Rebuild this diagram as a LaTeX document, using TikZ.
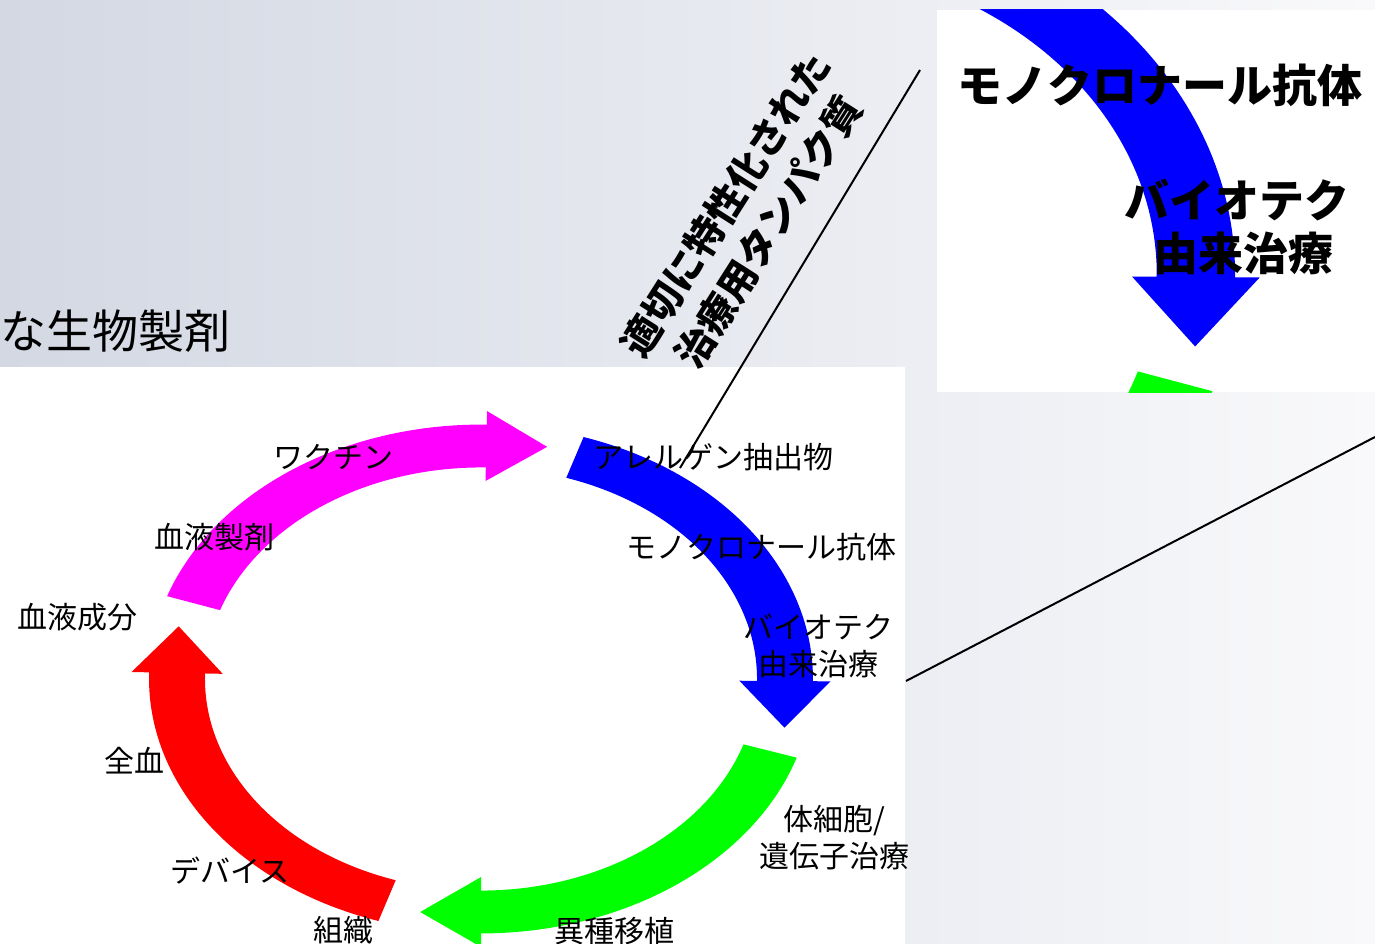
\documentclass[tikz,border=0pt]{standalone}
\usepackage{fontspec}
\newfontfamily\jp{Noto Sans CJK JP}
\definecolor{bgl}{HTML}{D3D8E3}
\definecolor{bgr}{HTML}{F9F9FB}
\definecolor{amag}{HTML}{FF00FF}
\definecolor{ablue}{HTML}{0000FF}
\definecolor{agreen}{HTML}{00FF00}
\definecolor{ared}{HTML}{FF0000}
\newcommand\ringarrow[3]{%
  \fill[#1] plot[domain=#2:#3,samples=60] ({1.092*cos(\x)},{1.092*sin(\x)})
    -- ({1.15*cos(#3)},{1.15*sin(#3)})
    -- ({cos(#3)+0.2*sin(#3)},{sin(#3)-0.2*cos(#3)})
    -- ({0.85*cos(#3)},{0.85*sin(#3)})
    -- plot[domain=#3:#2,samples=60] ({0.908*cos(\x)},{0.908*sin(\x)}) -- cycle;}
\tikzset{
  lbl/.style={inner sep=0pt,font=\jp\fontsize{30}{37}\selectfont,align=center,text=black},
  plbl/.style={inner sep=0pt,font=\jp\bfseries\fontsize{45}{52}\selectfont,text=black},
  link/.style={line width=2pt,black}
}
\begin{document}
\begin{tikzpicture}[x=1pt,y=-1pt]
\shade[left color=bgl,right color=bgr] (0,0) rectangle (1375,944);
\useasboundingbox (0,0) rectangle (1375,944);
% white panels
\fill[white] (0,367) rectangle (905,944);
\fill[white] (937,10) rectangle (1375,392);
% title
\node[inner sep=0pt,anchor=west,font=\jp\fontsize{46}{52}\selectfont,text=black] (title) at (0,331) {な生物製剤};
% rotated caption
\node[inner sep=0pt,rotate=57.5,align=center,font=\jp\bfseries\fontsize{39}{51}\selectfont] (cap) at (747,218) {適切に特性化された\\治療用タンパク質};
% cycle of arrows
\begin{scope}[shift={(481,679)},x={(304pt,0pt)},y={(0pt,233pt)}]
  \ringarrow{amag}{161}{89}
  \ringarrow{ablue}{72}{-0.5}
  \ringarrow{agreen}{-18}{-90}
  \ringarrow{ared}{252}{178.5}
\end{scope}
% labels of the cycle
\node[lbl] (allergen) at (713,457) {アレルゲン抽出物};
\node[lbl] (mab) at (761,547) {モノクロナール抗体};
\node[lbl] (biotech) at (818,646) {バイオテク\\由来治療};
\node[lbl] (vaccine) at (333,457) {ワクチン};
\node[lbl] (bloodprod) at (214,537) {血液製剤};
\node[lbl] (bloodcomp) at (77,617) {血液成分};
\node[lbl] (whole) at (134,761) {全血};
\node[lbl] (device) at (230,871) {デバイス};
\node[lbl] (tissue) at (343,930) {組織};
\node[lbl] (xeno) at (614,931) {異種移植};
\node[lbl] (gene) at (834,838) {体細胞/\\遺伝子治療};
% magnified panel
\begin{scope}
  \clip (937,10) rectangle (1375,392);
  \begin{scope}[shift={(770.3,274)},x={(425.6pt,0pt)},y={(0pt,347.2pt)}]
    \ringarrow{ablue}{72}{-0.5}
    \ringarrow{agreen}{-18}{-90}
  \end{scope}
  \node[plbl] (pmab) at (1160,85) {モノクロナール抗体};
  \node[plbl] (pbio) at (1237,200) {バイオテク};
  \node[plbl] (pder) at (1243,253) {由来治療};
\end{scope}
% callout lines
\coordinate (c1a) at (920,70);
\coordinate (c1b) at (680,468);
\coordinate (c2a) at (906,681);
\coordinate (c2b) at (1375,437);
\draw[link] (c1a) -- (c1b);
\draw[link] (c2a) -- (c2b);
\end{tikzpicture}
\end{document}
